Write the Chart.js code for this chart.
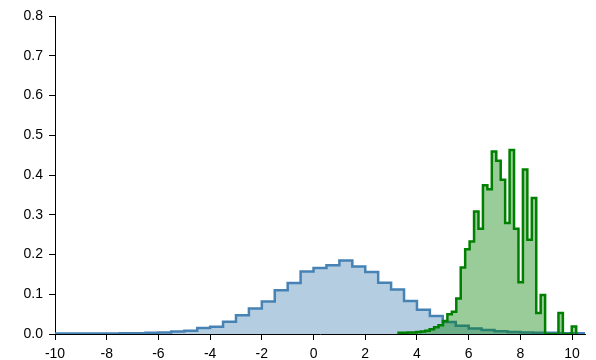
<!DOCTYPE html>
<html>
<head>
<meta charset="utf-8">
<script src="https://cdn.jsdelivr.net/npm/chart.js@4.4.0/dist/chart.umd.min.js"></script>
<style>
    body { margin: 0; background: #fff; }
    #wrap { width: 596px; height: 360px; }
</style>
</head>
<body>
<div id="wrap"><canvas id="histChart"></canvas></div>
<script>
// blue histogram: bins of 0.5 starting at -10
const blueStart = -10;
const blueStep = 0.5;
const blueValues = [
    0.001, 0.001, 0.001, 0.001, 0.001, 0.002, 0.002, 0.003, 0.004, 0.006,
    0.008, 0.015, 0.018, 0.031, 0.047, 0.064, 0.082, 0.110, 0.128, 0.157,
    0.166, 0.173, 0.185, 0.170, 0.156, 0.129, 0.112, 0.083, 0.061, 0.045,
    0.030, 0.021, 0.014, 0.010, 0.007, 0.005, 0.004, 0.003, 0.003, 0.002,
    0.002,
];

// green histogram: 40 bins between data min and max
const greenStart = 3.288;
const greenStep = 0.1718;
const greenValues = [
    0.003, 0.003, 0.004, 0.004, 0.005, 0.006, 0.008, 0.012, 0.017, 0.022,
    0.033, 0.050, 0.056, 0.089, 0.167, 0.213, 0.233, 0.308, 0.265, 0.374,
    0.364, 0.459, 0.436, 0.388, 0.279, 0.463, 0.265, 0.130, 0.414, 0.237,
    0.342, 0.053, 0.098, 0, 0, 0, 0.053, 0, 0, 0.019,
];

const xTicks = [-10, -8, -6, -4, -2, 0, 2, 4, 6, 8, 10];
const yTicks = [0, 0.1, 0.2, 0.3, 0.4, 0.5, 0.6, 0.7, 0.8];

// turn bins into an outline: up at left edge, across, down at right edge
const stepPoints = (start, step, values) => {
    const pts = [{ x: start, y: 0 }];
    for (let i = 0; i < values.length; i++) {
        pts.push({ x: start + i * step, y: values[i] });
        pts.push({ x: start + (i + 1) * step, y: values[i] });
    }
    pts.push({ x: start + values.length * step, y: 0 });
    return pts;
};

const tickFont = { family: 'Helvetica, Arial, "Liberation Sans", sans-serif', size: 14 };

const ctx = document.getElementById('histChart');
new Chart(ctx, {
    type: 'line',
    data: {
        datasets: [
            {
                label: 'green',
                data: stepPoints(greenStart, greenStep, greenValues),
                borderColor: 'rgb(0, 128, 0)',
                backgroundColor: 'rgba(0, 128, 0, 0.4)',
                borderWidth: 2.5,
                fill: 'origin',
                pointRadius: 0,
                tension: 0,
                order: 1,
            },
            {
                label: 'blue',
                data: stepPoints(blueStart, blueStep, blueValues),
                borderColor: 'rgb(70, 130, 180)',
                backgroundColor: 'rgba(70, 130, 180, 0.4)',
                borderWidth: 2.5,
                fill: 'origin',
                pointRadius: 0,
                tension: 0,
                order: 2,
            },
        ],
    },
    options: {
        responsive: true,
        maintainAspectRatio: false,
        animation: false,
        layout: { padding: { top: 16, right: 11, left: 0, bottom: 0 } },
        plugins: {
            legend: { display: false },
            tooltip: { enabled: false },
        },
        scales: {
            x: {
                type: 'linear',
                min: -10,
                max: 10.5,
                afterBuildTicks: (scale) => {
                    scale.ticks = xTicks.map((v) => ({ value: v }));
                },
                afterFit: (scale) => {
                    scale.height = 26;
                },
                ticks: { color: '#000', font: tickFont, padding: 6, maxRotation: 0 },
                grid: { drawOnChartArea: false, tickLength: 6, color: '#000' },
                border: { color: '#000', width: 1 },
            },
            y: {
                min: 0,
                max: 0.8,
                afterBuildTicks: (scale) => {
                    scale.ticks = yTicks.map((v) => ({ value: v }));
                },
                afterFit: (scale) => {
                    scale.width = 55;
                },
                ticks: {
                    color: '#000',
                    font: tickFont,
                    padding: 6,
                    callback: (v) => v.toFixed(1),
                },
                grid: { drawOnChartArea: false, tickLength: 6, color: '#000' },
                border: { color: '#000', width: 1 },
            },
        },
    },
});
</script>
</body>
</html>
